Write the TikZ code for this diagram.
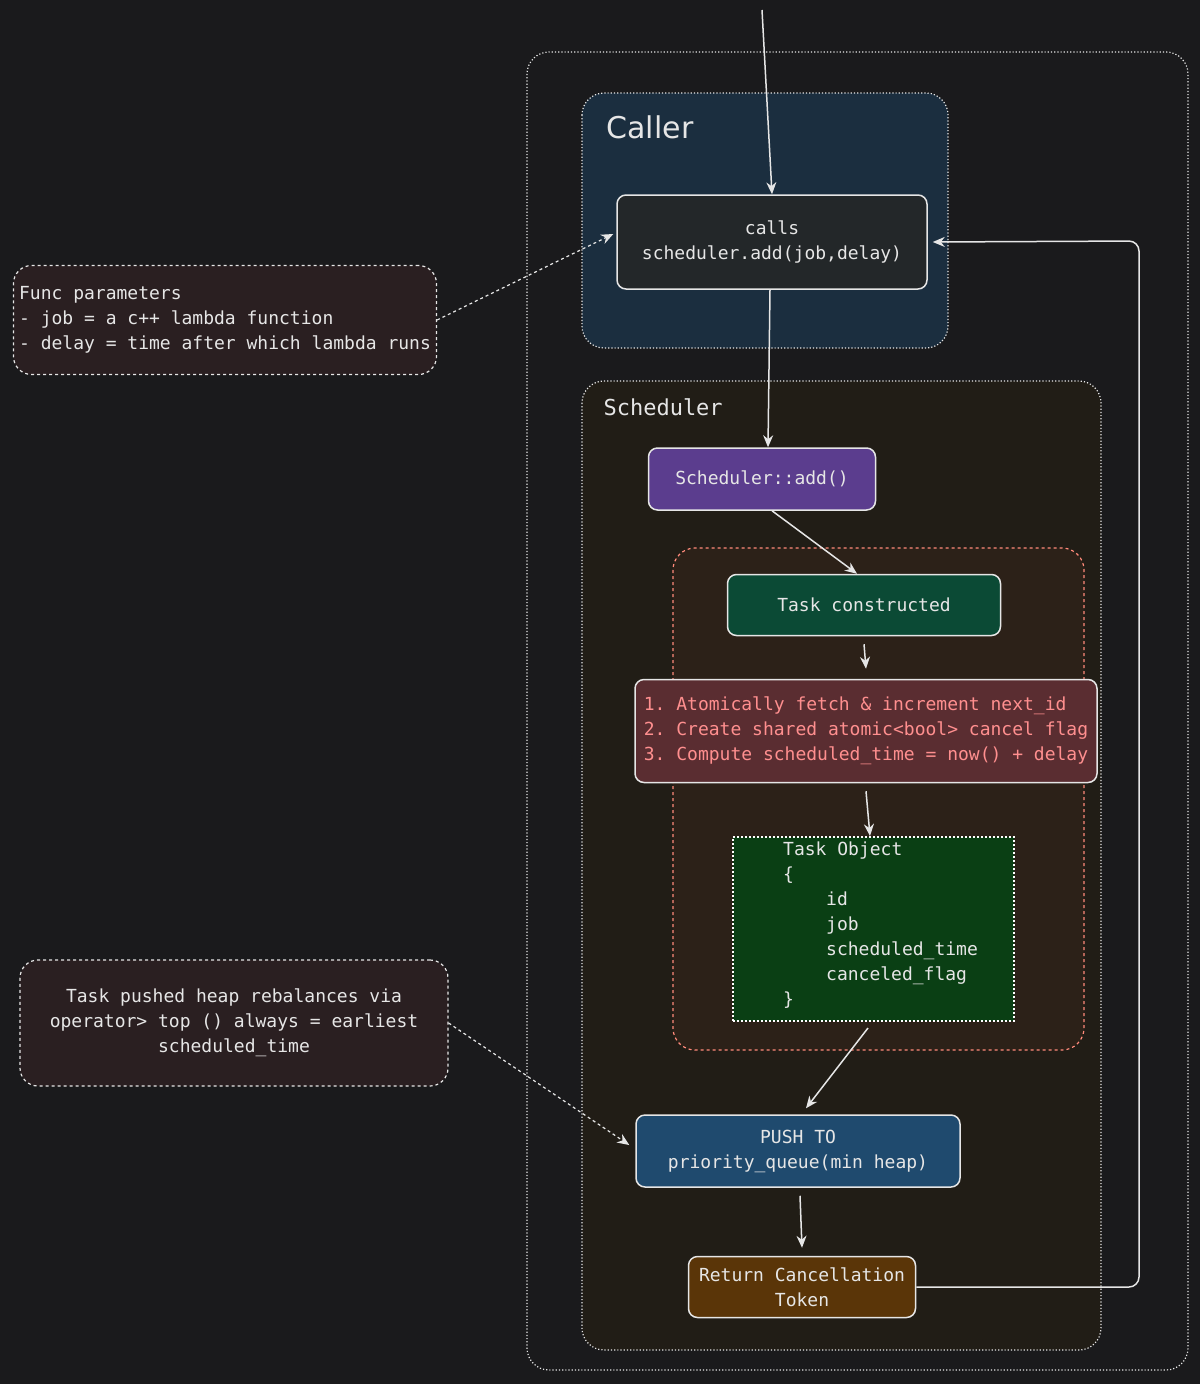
\documentclass[tikz,border=0pt]{standalone}
\usepackage{fontspec}
\setmonofont{DejaVu Sans Mono}
\setsansfont{DejaVu Sans}
\usetikzlibrary{arrows.meta,positioning}
\definecolor{bg}{HTML}{1A1A1C}
\definecolor{fg}{HTML}{E6E6E6}
\definecolor{callerfill}{HTML}{1B2E3F}
\definecolor{schedfill}{HTML}{211D16}
\definecolor{notefill}{HTML}{2A1F21}
\definecolor{redreg}{HTML}{2C2118}
\definecolor{salmon}{HTML}{FF8A7A}
\definecolor{callsfill}{HTML}{232729}
\definecolor{purp}{HTML}{5B3D8E}
\definecolor{tgreen}{HTML}{0B4A35}
\definecolor{stepfill}{HTML}{5A2D31}
\definecolor{steptext}{HTML}{FF8F8F}
\definecolor{objfill}{HTML}{0A3F14}
\definecolor{pushfill}{HTML}{1F4A6E}
\definecolor{retfill}{HTML}{5A3508}
\tikzset{
  region/.style={draw=fg, dotted, line width=1.2pt, rounded corners=22pt},
  boxx/.style={draw=fg, line width=1.5pt, rounded corners=9pt, text=fg, font=\ttfamily\fontsize{18}{25}\selectfont, align=center, inner sep=0pt},
  note/.style={draw=fg, dashed, line width=1.2pt, rounded corners=18pt, fill=notefill, text=fg, font=\ttfamily\fontsize{18}{25}\selectfont, inner sep=0pt},
  arr/.style={draw=fg, line width=1.5pt, -{Stealth[length=12pt,width=10pt]}},
  darr/.style={draw=fg, line width=1.2pt, dashed, -{Stealth[length=12pt,width=10pt]}},
}
\begin{document}
\begin{tikzpicture}[x=1pt,y=-1pt]
\useasboundingbox (0,0) rectangle (1200,1384);
\fill[bg] (0,0) rectangle (1200,1384);
% outer
\draw[region] (527,52) rectangle (1188,1370);
% caller region
\draw[region, fill=callerfill] (582,93) rectangle (948,348);
\node[anchor=west, text=fg, font=\sffamily\fontsize{30}{34}\selectfont] (callerlbl) at (603,127) {Caller};
% scheduler region
\draw[region, fill=schedfill] (582,381) rectangle (1101,1350);
\node[anchor=west, text=fg, font=\ttfamily\fontsize{22}{26}\selectfont] (schedlbl) at (600,407) {Scheduler};
% red dashed region
\draw[draw=salmon, dashed, line width=1.2pt, rounded corners=22pt, fill=redreg] (673,548) rectangle (1084,1050);
% nodes
\node[boxx, fill=callsfill, minimum width=310, minimum height=94] (calls) at (772,242) {calls\\scheduler.add(job,delay)};
\node[boxx, fill=purp, minimum width=227, minimum height=62] (add) at (762,479) {Scheduler::add()};
\node[boxx, fill=tgreen, minimum width=273, minimum height=61] (task) at (864,605) {Task constructed};
\node[boxx, fill=stepfill, text=steptext, align=left, minimum width=462, minimum height=103] (steps) at (866,731) {1. Atomically fetch \& increment next\_id\\2. Create shared atomic<bool> cancel flag\\3. Compute scheduled\_time = now() + delay};
\node[draw=white, dotted, line width=2pt, fill=objfill, minimum width=281, minimum height=184, inner sep=0pt] (obj) at (873,929) {};
\node[anchor=north west, text=fg, align=left, font=\ttfamily\fontsize{18}{25}\selectfont, inner sep=0pt] (objtxt) at (783,842) {Task Object\\\{\\\hspace{43pt}id\\\hspace{43pt}job\\\hspace{43pt}scheduled\_time\\\hspace{43pt}canceled\_flag\\\}};
\node[boxx, fill=pushfill, minimum width=324, minimum height=72] (push) at (798,1151) {PUSH TO\\priority\_queue(min heap)};
\node[boxx, fill=retfill, minimum width=227, minimum height=61] (ret) at (802,1287) {Return Cancellation\\Token};
\node[note, align=left, minimum width=423, minimum height=109] (func) at (225,320) {Func parameters\\- job = a c++ lambda function\\- delay = time after which lambda runs};
\node[note, align=center, minimum width=428, minimum height=126] (pushed) at (234,1023) {Task pushed heap rebalances via\\operator> top () always = earliest\\scheduled\_time};
% connectors
\coordinate (top) at (762,10);
\draw[arr] (top) -- (calls.north);
\draw[arr] ([xshift=-2pt]calls.south) -- ([xshift=6pt]add.north);
\draw[arr] ([xshift=10pt]add.south) -- ([xshift=-7pt]task.north);
\draw[arr] ([yshift=-8pt]task.south) -- ([yshift=10pt]steps.north);
\draw[arr] ([yshift=-8pt]steps.south) -- ([xshift=-3pt]obj.north);
\draw[arr] ([xshift=-5pt,yshift=-6pt]obj.south) -- ([xshift=8pt,yshift=6pt]push.north);
\draw[arr] ([xshift=2pt,yshift=-8pt]push.south) -- ([yshift=8pt]ret.north);
\draw[darr] (func.east) -- ([xshift=-3pt,yshift=8pt]calls.west);
\draw[darr] (pushed.east) -- ([xshift=-6pt,yshift=6pt]push.west);
\draw[draw=fg, line width=1.5pt, rounded corners=10pt, -{Stealth[length=12pt,width=10pt]}] (ret.east) -- (1139,1287) -- (1139,241) -- ([xshift=5pt]calls.east);
\end{tikzpicture}
\end{document}
